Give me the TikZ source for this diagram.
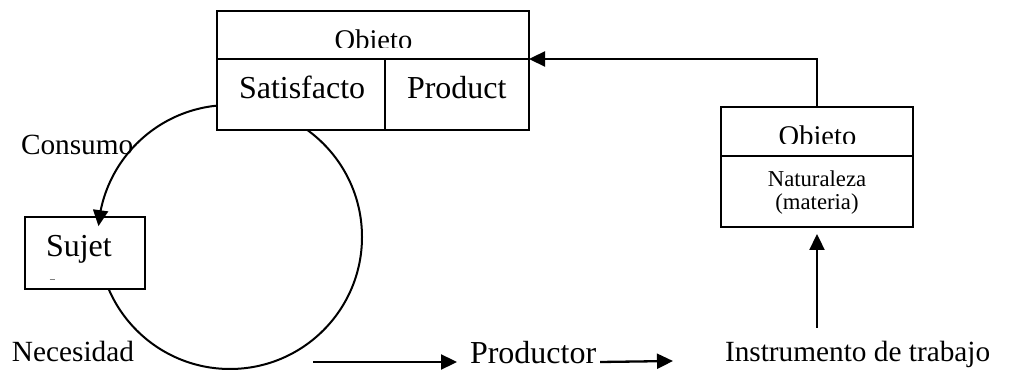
\documentclass[tikz,border=0pt]{standalone}
\usepackage{fontspec}
\setmainfont{Liberation Serif}
\usetikzlibrary{arrows.meta,calc}
\newcommand\fsz[1]{\fontsize{#1pt}{#1pt}\selectfont}
\tikzset{
  box/.style={draw, fill=white, line width=2pt, inner sep=0pt},
  txt/.style={inner sep=0pt, outer sep=0pt},
  arr/.style={line width=2.3pt, -{Triangle[length=16pt,width=15pt]}},
  ring/.style={line width=2pt}
}
\begin{document}
\begin{tikzpicture}[x=1pt,y=-1pt]
\useasboundingbox (0,0) rectangle (1018,371);
% cycle circle
\coordinate (cc) at (230,237);
\draw[ring] (cc) circle[radius=132];
% top box
\node[box, minimum width=312pt, minimum height=119pt] (obj) at (373,70.5) {};
\draw[line width=2pt] (217,59) -- (529,59);
\draw[line width=2pt] (385,59) -- (385,130);
\begin{scope}
  \clip (217,11) rectangle (529,48);
  \node[txt, anchor=base, font=\fsz{28.5}] (objt) at (373.5,49.5) {Obieto};
\end{scope}
\node[txt, anchor=base west, font=\fsz{32}] (sat) at (239,99) {Satisfacto};
\node[txt, anchor=base west, font=\fsz{32}] (prd) at (407,99) {Product};
% right box
\node[box, minimum width=192pt, minimum height=120pt] (nat) at (817,167) {};
\draw[line width=2pt] (721,156) -- (913,156);
\begin{scope}
  \clip (721,107) rectangle (913,144);
  \node[txt, anchor=base, font=\fsz{28.5}] (objt2) at (817.5,145.5) {Obieto};
\end{scope}
\node[txt, anchor=base, font=\fsz{22.7}] (natt) at (817,187) {Naturaleza};
\node[txt, anchor=base, font=\fsz{22.7}] (mat) at (817,210) {(materia)};
% sujeto box
\node[box, minimum width=120pt, minimum height=72pt] (suj) at (85,253) {};
\node[txt, anchor=base west, font=\fsz{32}] (sujt) at (46,257) {Sujet};
\draw[gray, line width=0.8pt] (49.5,279) -- (55,279);
% labels
\node[txt, anchor=base west, font=\fsz{29.3}] (cons) at (21,155) {Consumo};
\node[txt, anchor=base west, font=\fsz{29.3}] (nec) at (12,362) {Necesidad};
\node[txt, anchor=base west, font=\fsz{32}] (prod) at (470,363) {Productor};
\node[txt, anchor=base west, font=\fsz{29.3}] (instr) at (725,362) {Instrumento de trabajo};
% consumo arrowhead on the cycle, pointing into Sujet
\draw[arr, line width=2pt] ($(cc)+(191:132)$) -- ($(cc)+(184.7:132)$);
% connectors
\coordinate (objport) at (529,59);
\draw[arr] (nat.north) |- (objport);
\coordinate (instrtop) at (817,328);
\draw[arr, shorten >=6pt] (instrtop) -- (nat.south);
\draw[arr] ([xshift=-157pt,yshift=1pt]prod.base west) -- ([xshift=-13pt,yshift=1pt]prod.base west);
\draw[arr] ([xshift=4pt,yshift=1pt]prod.base east) -- ([xshift=-52pt,yshift=1pt]instr.base west);
\end{tikzpicture}
\end{document}
